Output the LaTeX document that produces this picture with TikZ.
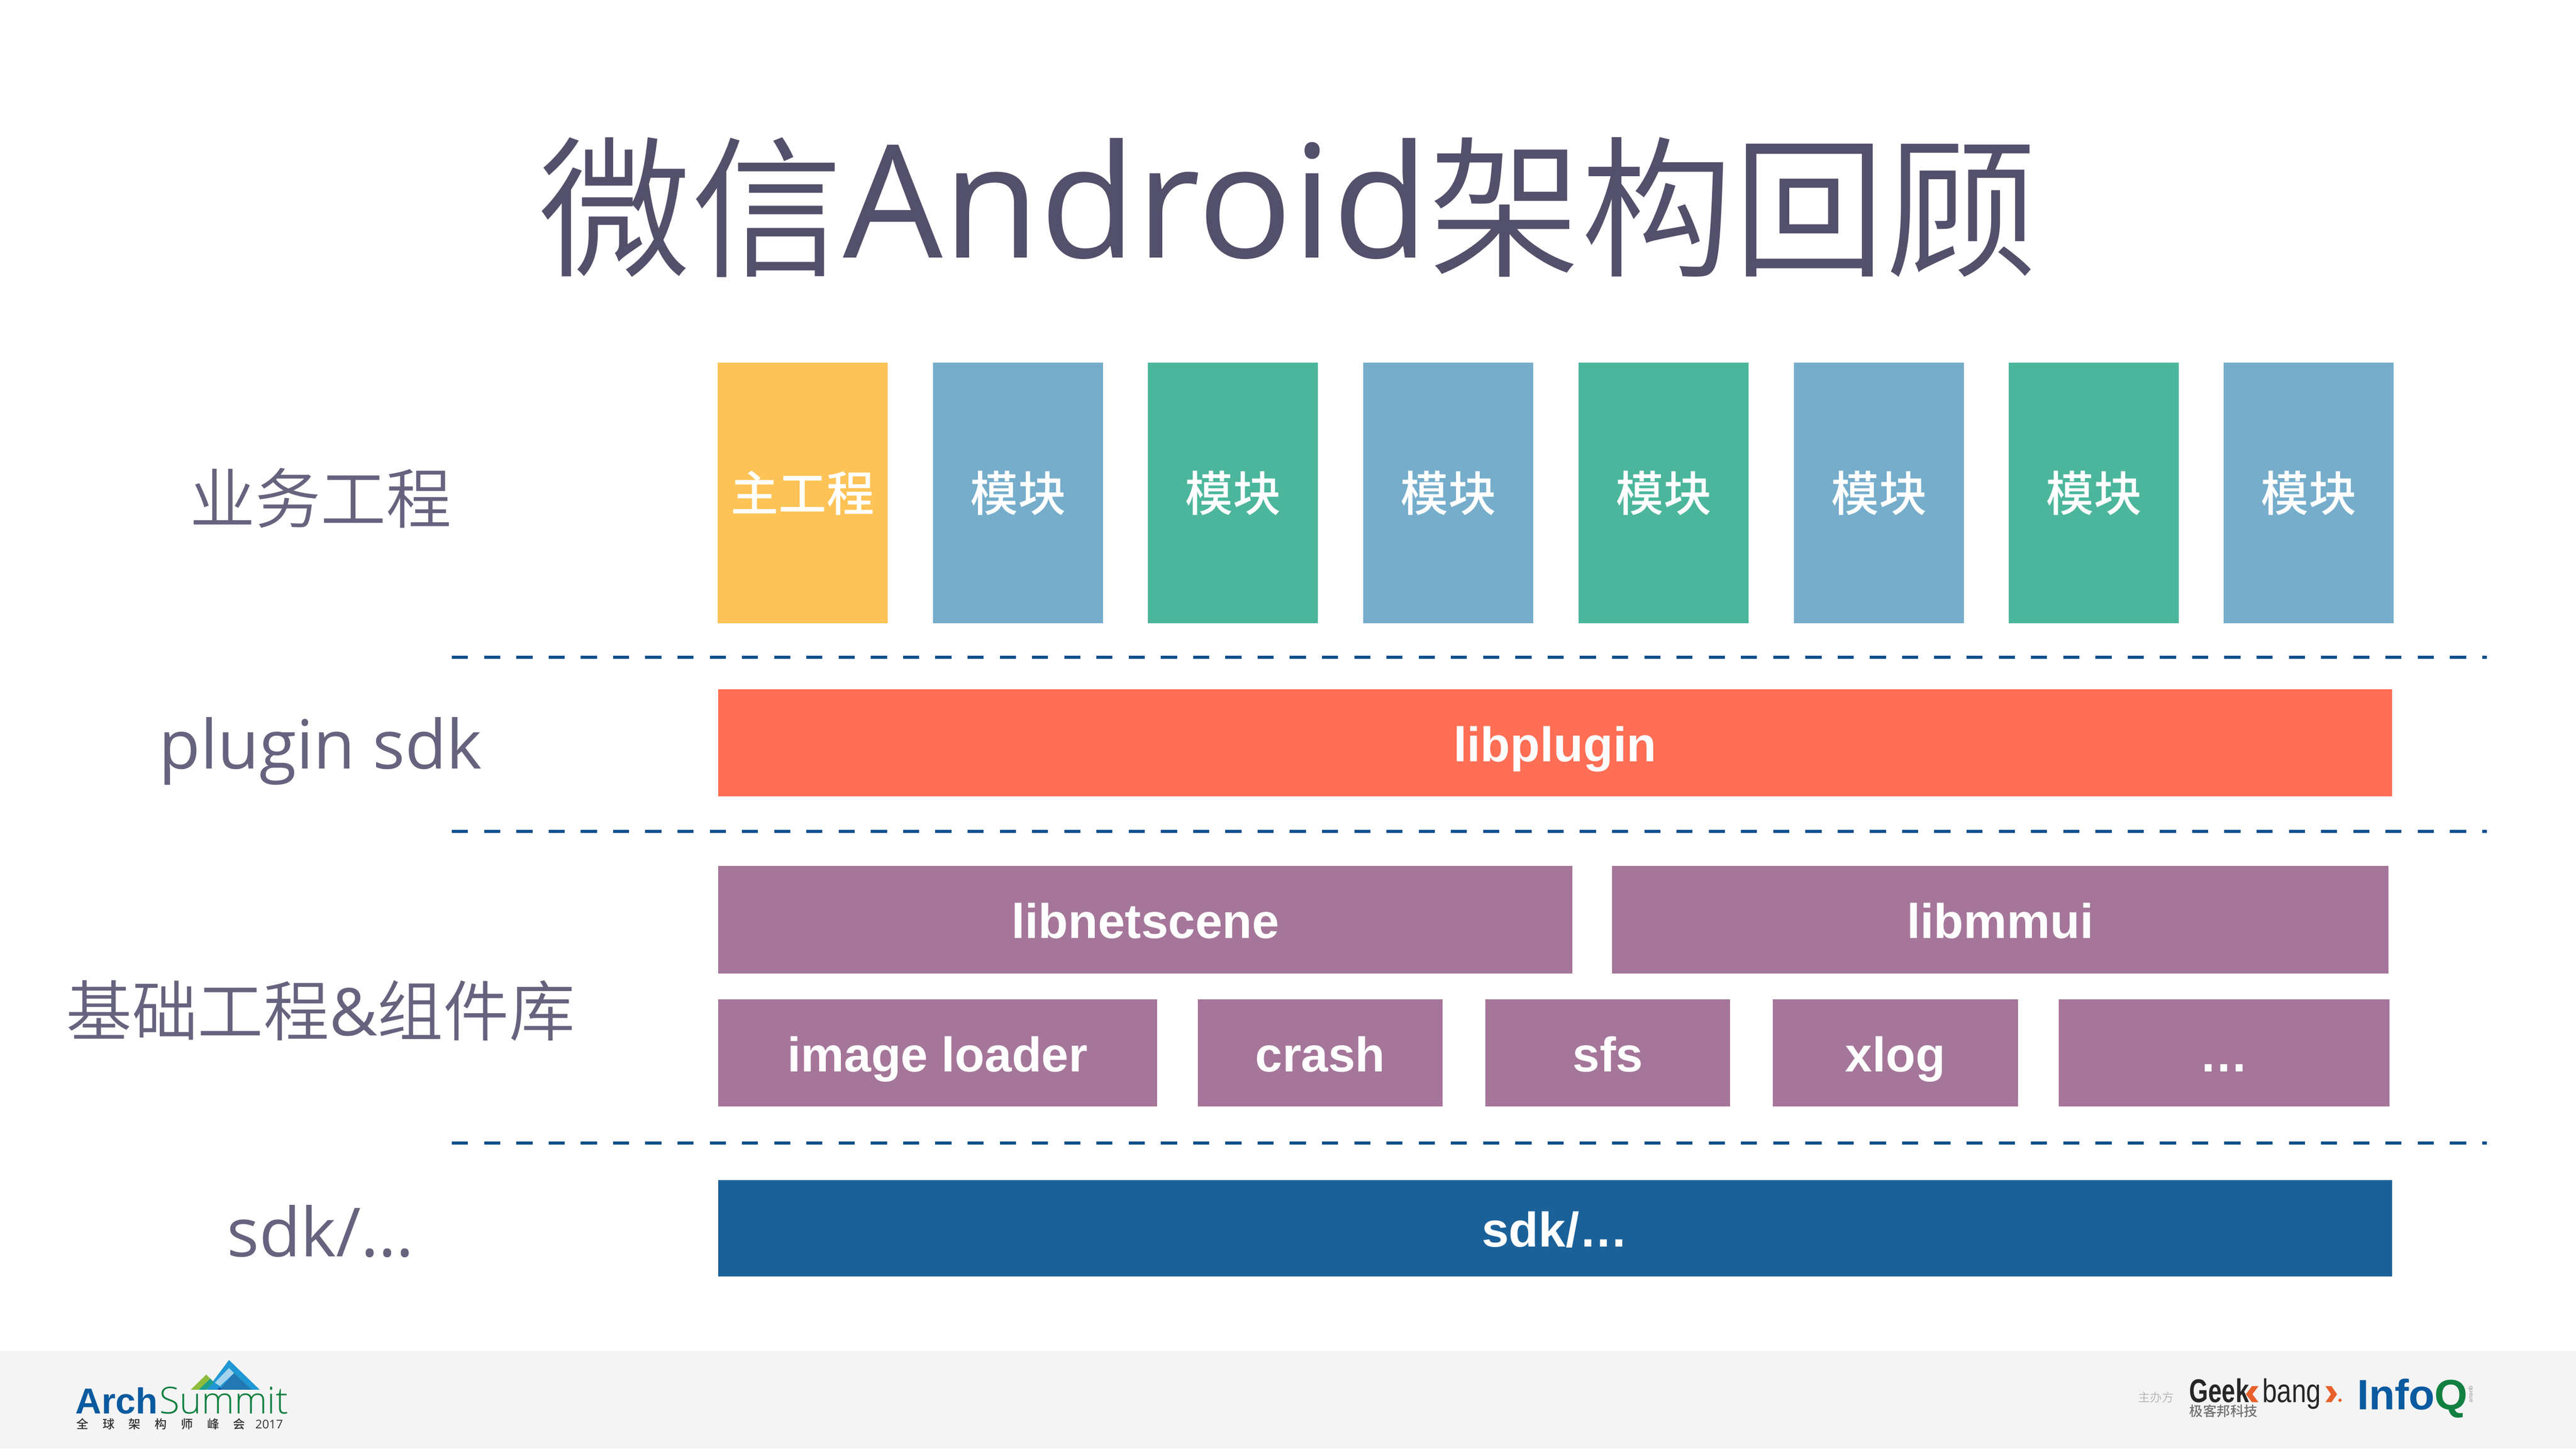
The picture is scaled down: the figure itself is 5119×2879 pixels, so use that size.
\documentclass[tikz,border=0pt]{standalone}
\usepackage{fontspec}
\setmainfont{Liberation Sans}
\newfontfamily\cjklight{Noto Sans CJK SC DemiLight}
\newfontfamily\cjkthin{Noto Sans CJK SC Light}
\newfontfamily\cjkmed{Noto Sans CJK SC Medium}
\newfontfamily\cjkreg{Noto Sans CJK SC}
\newfontfamily\latlight{Open Sans Light}
\newfontfamily\latreg{Open Sans}
\definecolor{inkc}{HTML}{53506B}
\definecolor{labelc}{HTML}{65637E}
\definecolor{yellowc}{HTML}{FEC356}
\definecolor{bluec}{HTML}{75ADCB}
\definecolor{greenc}{HTML}{4BB69C}
\definecolor{redc}{HTML}{FF6E55}
\definecolor{purplec}{HTML}{A57699}
\definecolor{navyc}{HTML}{1B6199}
\definecolor{dashc}{HTML}{0B4F8C}
\definecolor{footc}{HTML}{F4F4F4}
\definecolor{archb}{HTML}{0A5AA0}
\definecolor{sumg}{HTML}{128040}
\definecolor{orangec}{HTML}{E8602C}
\definecolor{mgreen}{HTML}{8FBC3C}
\definecolor{mteal}{HTML}{1FA08C}
\definecolor{mblue}{HTML}{2098D4}
\definecolor{mlight}{HTML}{A5D3EC}
\definecolor{mdark}{HTML}{2378B4}
\definecolor{mnavy}{HTML}{1A4FA0}
\newcommand{\fs}[1]{\fontsize{#1}{#1}\selectfont}
\newcommand{\titlecjk}[1]{\raisebox{-0.15cm}{\cjklight\fs{86}#1}}
\newcommand{\blk}[8][]{\node[blockbox,fill=#7,minimum width={(#5-#3)*0.01cm},minimum height={(#6-#4)*0.01cm},#1] (#2) at ({(#3+#5)/2},{(#4+#6)/2}) {#8};}
\tikzset{
  blockbox/.style={inner sep=0pt,outer sep=0pt,text=white,font=\bfseries\fs{27.5},text height=0.74cm,text depth=0pt},
  cjkbox/.style={font=\cjkmed\mdseries\fs{27},text height=0.72cm},
  sidelabel/.style={inner sep=0pt,outer sep=0pt,text=labelc,anchor=base},
  sep/.style={draw=dashc,line width=0.06cm,dash pattern=on 0.32cm off 0.32cm},
  plain/.style={inner sep=0pt,outer sep=0pt,anchor=base west}
}
\begin{document}
\begin{tikzpicture}[x=0.01cm,y=-0.01cm]
\useasboundingbox (0,0) rectangle (5119,2879);
\fill[white] (0,0) rectangle (5119,2879);
\fill[footc] (0,2685) rectangle (5119,2879);
% title
\node[sidelabel,text=inkc] (title) at (2560,512) {\titlecjk{微信}{\latreg\fs{89}Android}\titlecjk{架构回顾}};
% side labels
\node[sidelabel,font=\cjklight\fs{37}] (l1) at (637,1040) {业务工程};
\node[sidelabel,font=\latreg\fs{38.3}] (l2) at (637,1528) {plugin sdk};
\node[sidelabel,font=\cjklight\fs{37.2}] (l3) at (637,2058) {基础工程\latreg\&\cjklight 组件库};
\node[sidelabel,font=\latreg\fs{38.3}] (l4) at (637,2498) {sdk/…};
% top row
\blk[cjkbox]{a1}{1426}{721}{1764}{1239}{yellowc}{主工程}
\blk[cjkbox]{a2}{1854}{721}{2192}{1239}{bluec}{模块}
\blk[cjkbox]{a3}{2281}{721}{2619}{1239}{greenc}{模块}
\blk[cjkbox]{a4}{2709}{721}{3047}{1239}{bluec}{模块}
\blk[cjkbox]{a5}{3137}{721}{3475}{1239}{greenc}{模块}
\blk[cjkbox]{a6}{3565}{721}{3903}{1239}{bluec}{模块}
\blk[cjkbox]{a7}{3992}{721}{4330}{1239}{greenc}{模块}
\blk[cjkbox]{a8}{4419}{721}{4757}{1239}{bluec}{模块}
% separators
\coordinate (s1a) at (898,1306); \coordinate (s1b) at (4942,1306);
\coordinate (s2a) at (898,1652); \coordinate (s2b) at (4942,1652);
\coordinate (s3a) at (898,2272); \coordinate (s3b) at (4942,2272);
\draw[sep] (s1a) -- (s1b);
\draw[sep] (s2a) -- (s2b);
\draw[sep] (s3a) -- (s3b);
% layers
\blk{plug}{1427}{1370}{4753}{1583}{redc}{libplugin}
\blk{net}{1427}{1721}{3125}{1935}{purplec}{libnetscene}
\blk{mmui}{3203}{1721}{4746}{1935}{purplec}{libmmui}
\blk{img}{1427}{1986}{2299}{2199}{purplec}{image loader}
\blk{crash}{2380}{1986}{2867}{2199}{purplec}{crash}
\blk{sfs}{2952}{1986}{3438}{2199}{purplec}{sfs}
\blk{xlog}{3523}{1986}{4010}{2199}{purplec}{xlog}
\blk{dots}{4091}{1986}{4748}{2199}{purplec}{…}
\blk{sdk}{1427}{2345}{4753}{2537}{navyc}{sdk/…}
% ArchSummit logo
\fill[mgreen] (379,2762) -- (410,2732) -- (420,2742) -- (397,2762) -- cycle;
\fill[mblue] (411,2762) -- (455,2703) -- (516,2762) -- cycle;
\fill[mteal] (395,2762) -- (418,2740) -- (425,2747) -- (410,2762) -- cycle;
\fill[mlight] (427,2748) -- (455,2719) -- (465,2729) -- (437,2755) -- cycle;
\fill[mdark] (436,2762) -- (465,2729) -- (500,2762) -- cycle;
\fill[mnavy] (432,2762) -- (436,2757) -- (441,2762) -- cycle;
\node[plain,text=archb,font=\bfseries\fs{20.4}] (arch) at (150,2810) {Arch};
\node[plain,text=sumg,font=\latlight\fs{21}] (summit) at (317,2810) {Summit};
\node[plain,text=black!80,font=\cjkmed\fs{6.8}] (sub) at (152,2839) {全\hspace{0.28cm}球\hspace{0.28cm}架\hspace{0.28cm}构\hspace{0.28cm}师\hspace{0.28cm}峰\hspace{0.28cm}会\hspace{0.2cm}\latreg 2017};
% right logos
\node[plain,text=black!30,font=\cjklight\fs{6.7}] (host) at (4249,2786) {主办方};
\node[plain,text=black!85,font=\bfseries\fs{18.6}] (geek) at (4351,2787) {\scalebox{0.74}[1]{Geek}};
\fill[orangec] (4475,2755) -- (4488,2755) -- (4476,2771) -- (4488,2787) -- (4475,2787) -- (4463,2771) -- cycle;
\node[plain,text=black!85,font=\fs{18.6}] (bang) at (4496,2787) {\scalebox{0.8}[1]{bang}};
\fill[orangec] (4621,2755) -- (4633,2755) -- (4644,2771) -- (4633,2787) -- (4621,2787) -- (4632,2771) -- cycle;
\fill[orangec] (4650,2779) -- (4654,2783) -- (4650,2787) -- (4646,2783) -- cycle;
\node[plain,text=black!55,font=\cjkmed\fs{7.7}] (kj) at (4351,2815) {极客邦科技};
\node[plain,text=archb,font=\bfseries\fs{24}] (info) at (4684,2802) {Info};
\node[plain,text=sumg,font=\bfseries\fs{24}] (q) at (4838,2802) {Q};
\node[inner sep=0pt,text=black!40,font=\fs{3.4},rotate=-90] (queue) at (4909,2771) {queue};
\end{tikzpicture}
\end{document}
